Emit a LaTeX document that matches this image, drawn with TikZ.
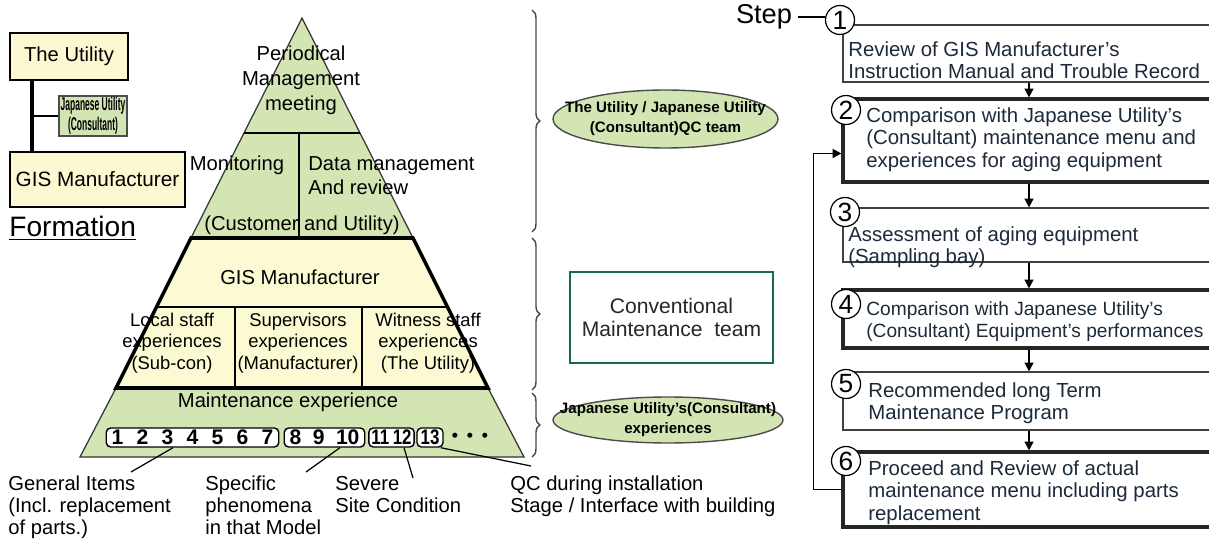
\documentclass[tikz,border=0pt]{standalone}
\usepackage{fontspec}
\setmainfont{Liberation Sans}
\newfontfamily\narrowsans[FakeStretch=0.46]{Liberation Sans}
\newfontfamily\numsans[FakeStretch=0.8]{Liberation Sans}
\usepackage{tikz}
\usetikzlibrary{shapes.geometric,decorations.pathreplacing,arrows.meta,positioning,calc,fit}
\definecolor{pyrgreen}{RGB}{212,229,180}
\definecolor{pyryellow}{RGB}{252,250,211}
\definecolor{boxyellow}{RGB}{252,249,210}
\definecolor{teamteal}{RGB}{28,104,88}
\definecolor{steptext}{RGB}{28,42,58}
\definecolor{bracegray}{RGB}{70,70,70}

\begin{document}
\begin{tikzpicture}[x=0.02cm, y=-0.02cm,
    pyredge/.style={draw=black!80, line width=0.7pt},
    divline/.style={line width=1.2pt},
    pyrtxt/.style={font=\fontsize{11.5}{14.2}\selectfont, align=center, inner sep=0pt},
    lowtxt/.style={font=\fontsize{10.5}{12.2}\selectfont, align=center, inner sep=0pt},
    fbox/.style={draw, line width=1.6pt, fill=boxyellow, inner sep=0pt, font=\fontsize{11.5}{13}\selectfont},
    numbox/.style={draw, rounded corners=2.5pt, fill=white, line width=0.8pt, inner xsep=3pt, inner ysep=0pt, minimum height=0.38cm, font=\bfseries\fontsize{12}{12}\selectfont},
    leader/.style={line width=0.7pt},
    labeltxt/.style={font=\fontsize{11.5}{12.5}\selectfont, align=left, inner sep=0pt, anchor=north west},
    teambrace/.style={decorate, decoration={brace, amplitude=4.5pt}, draw=bracegray, line width=0.8pt},
    teamell/.style={ellipse, draw=black!70, fill=pyrgreen, line width=0.8pt, inner sep=0pt},
    elltxt/.style={font=\bfseries\fontsize{8.6}{11.3}\selectfont, align=center, inner sep=0pt},
    stepthin/.style={draw=black!75, line width=0.7pt, inner sep=0pt},
    stepthick/.style={draw=black!85, line width=1.8pt, inner sep=0pt},
    stepnum/.style={circle, draw, fill=white, line width=0.7pt, minimum size=0.58cm, inner sep=0pt, font=\fontsize{15}{15}\selectfont},
    steptxt/.style={font=\fontsize{11.6}{12.8}\selectfont, text=steptext, align=left, inner sep=0pt, anchor=north west},
    dnarrow/.style={line width=1pt, -{Triangle[length=5pt,width=5pt]}},
  ]
  \fill[white, use as bounding box] (0,0) rectangle (1209,540);

  % formation
  \node[fbox, minimum width=2.36cm, minimum height=0.94cm] (util) at (69,56.5) {The Utility};
  \node[draw=black!70, line width=0.6pt, fill=pyrgreen, minimum width=1.36cm, minimum height=0.8cm, inner sep=0pt,
        font=\narrowsans\bfseries\fontsize{10.5}{11.5}\selectfont, align=center] (jpn) at (93,116) {Japanese Utility\\(Consultant)};
  \node[fbox, minimum width=3.5cm, minimum height=1.1cm, font=\fontsize{11.8}{13}\selectfont] (gism) at (97.5,179.5) {GIS Manufacturer};
  \coordinate (trunk) at (32,0);
  \draw[line width=1.8pt] (util.south -| trunk) -- (gism.north -| trunk);
  \draw[line width=0.7pt] (jpn.west) -- (jpn.west -| trunk);
  \node[font=\fontsize{16}{16}\selectfont, anchor=base west, inner sep=0pt] (formation) at (9,237) {\underline{Formation}};

  % pyramid
  \coordinate (apex) at (302,18);
  \coordinate (pl1) at (244,133); \coordinate (pr1) at (360,133);
  \coordinate (pl2) at (191,238); \coordinate (pr2) at (413,238);
  \coordinate (pl3) at (116,388); \coordinate (pr3) at (488,388);
  \coordinate (pl4) at (80,457);  \coordinate (pr4) at (524,457);
  \draw[pyredge, fill=pyrgreen] (apex) -- (pr2) -- (pl2) -- cycle;
  \draw[pyredge, fill=pyrgreen] (pl3) -- (pr3) -- (pr4) -- (pl4) -- cycle;
  \draw[divline] (pl1) -- (pr1);
  \draw[divline] (299,133) -- (299,238);
  \draw[line width=2pt, fill=pyryellow] (pl2) -- (pr2) -- (pr3) -- (pl3) -- cycle;
  \draw[divline] (156.5,307) -- (447.5,307);
  \draw[divline] (235,307) -- (235,388);
  \draw[divline] (362,307) -- (362,388);

  \node[pyrtxt] (peri) at (301,80) {Periodical\\Management\\meeting};
  \node[pyrtxt] (moni) at (237,165) {Monitoring};
  \node[pyrtxt, align=left, anchor=north west, font=\fontsize{11.5}{13.6}\selectfont] (datam) at (308,156) {Data management\\And review};
  \node[pyrtxt] (cust) at (302,225) {(Customer and Utility)};
  \node[pyrtxt] (gisp) at (300,277) {GIS Manufacturer};
  \node[lowtxt] (local) at (172,343) {Local staff\\experiences\\(Sub-con)};
  \node[lowtxt] (superv) at (298,343) {Supervisors\\experiences\\(Manufacturer)};
  \node[lowtxt] (witn) at (428,343) {Witness staff\\experiences\\(The Utility)};
  \node[pyrtxt] (mexp) at (288,402) {Maintenance experience};

  % item groups
  \node[numbox] (g1) at (192.5,437.5) {\makebox[3.24cm][s]{1\hfill 2\hfill 3\hfill 4\hfill 5\hfill 6\hfill 7}};
  \node[numbox] (g2) at (324.5,437.5) {\makebox[1.4cm][s]{8\hfill 9\hfill 10}};
  \node[numbox, inner xsep=1.5pt, minimum width=0.9cm, font=\numsans\bfseries\fontsize{12}{12}\selectfont] (g3) at (391.5,437.5) {11\,12};
  \node[numbox, inner xsep=1.5pt, minimum width=0.52cm, font=\numsans\bfseries\fontsize{12}{12}\selectfont] (g4) at (430,437.5) {13};
  \node[inner sep=0pt, font=\bfseries\fontsize{10}{10}\selectfont] (dots) at (470,437.5) {\textbullet\enspace\textbullet\enspace\textbullet};

  \node[labeltxt] (gen) at (8,476) {General Items\\(Incl. replacement\\of parts.)};
  \node[labeltxt] (spec) at (205,476) {Specific\\phenomena\\in that Model};
  \node[labeltxt] (sev) at (335,476) {Severe\\Site Condition};
  \node[labeltxt] (qc) at (510,476) {QC during installation\\Stage / Interface with building};
  \coordinate (lead1) at (131,472);
  \coordinate (lead2) at (306,472);
  \coordinate (lead3) at (413,478);
  \coordinate (lead4) at (531,466);
  \draw[leader] ([xshift=-0.39cm]g1.south) -- (lead1);
  \draw[leader] ([xshift=0.31cm]g2.south) -- (lead2);
  \draw[leader] ([xshift=0.25cm]g3.south) -- (lead3);
  \draw[leader] ([xshift=-0.06cm]g4.south east) -- (lead4);

  % teams
  \draw[teambrace] (532,10) -- (532,232);
  \draw[teambrace] (532,238) -- (532,390);
  \draw[teambrace] (532,393) -- (532,457);
  \node[teamell, minimum width=4.5cm, minimum height=1.16cm] (qcteam) at (665.5,119) {};
  \node[elltxt] (qcteamtxt) at (qcteam) {The Utility / Japanese Utility\\(Consultant)QC team};
  \node[draw=teamteal, line width=1.3pt, minimum width=4.06cm, minimum height=1.82cm, inner sep=0pt,
        font=\fontsize{12}{13}\selectfont, text=black!85, align=center] (conv) at (671.5,317.5) {Conventional\\Maintenance\ \ team};
  \node[teamell, minimum width=4.6cm, minimum height=0.92cm] (jpteam) at (668,420) {};
  \node[elltxt] (jpteamtxt) at (jpteam) {Japanese Utility's(Consultant)\\experiences};

  % steps
  \node[stepthin, fit={(843,25) (1215,82)}] (s1) {};
  \node[stepthick, fit={(843,99) (1215,182)}] (s2) {};
  \node[stepthin, fit={(843,208) (1215,262)}] (s3) {};
  \node[stepthick, fit={(843,290) (1215,348)}] (s4) {};
  \node[stepthin, fit={(843,372) (1215,430)}] (s5) {};
  \node[stepthick, fit={(843,452) (1215,527)}] (s6) {};
  \draw[dnarrow] (s1.south) -- (s2.north);
  \draw[dnarrow] (s2.south) -- (s3.north);
  \draw[dnarrow] (s3.south) -- (s4.north);
  \draw[dnarrow] (s4.south) -- (s5.north);
  \draw[dnarrow] (s5.south) -- (s6.north);
  \draw[dnarrow] (s6.west) -- ++(-28,0) |- ([yshift=-0.26cm]s2.west);

  \node[stepnum] (c1) at (840,20) {1};
  \node[stepnum] (c2) at (846,110) {2};
  \node[stepnum] (c3) at (845,212) {3};
  \node[stepnum] (c4) at (846,304) {4};
  \node[stepnum] (c5) at (846,384) {5};
  \node[stepnum] (c6) at (846,461) {6};
  \node[font=\fontsize{15.5}{16}\selectfont, inner sep=0pt] (steplbl) at (764,17) {Step};
  \draw[line width=0.8pt] ([xshift=3pt]steplbl.east) -- (steplbl.east -| c1.west);

  \node[steptxt] (t1) at (848,41) {Review of GIS Manufacturer's\\Instruction Manual and Trouble Record};
  \node[steptxt] (t2) at (866,107) {Comparison with Japanese Utility's\\(Consultant) maintenance menu and\\experiences for aging equipment};
  \node[steptxt] (t3) at (848,226) {Assessment of aging equipment\\(Sampling bay)};
  \node[steptxt, font=\fontsize{10.9}{12.8}\selectfont] (t4) at (866,301) {Comparison with Japanese Utility's\\(Consultant) Equipment's performances};
  \node[steptxt] (t5) at (868,382) {Recommended long Term\\Maintenance Program};
  \node[steptxt] (t6) at (868,460) {Proceed and Review of actual\\maintenance menu including parts\\replacement};
\end{tikzpicture}
\end{document}
